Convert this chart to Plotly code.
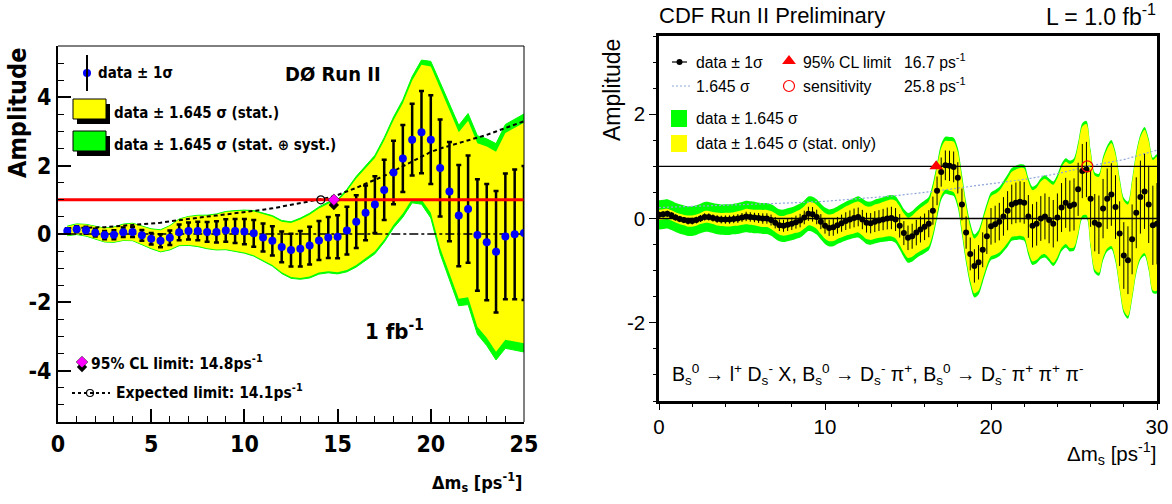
import math
import plotly.graph_objects as go

# ---------------- DØ panel data ----------------
d0_dms = [0.5 * i for i in range(1, 51)]
d0_amp = [0.09, 0.14, 0.11, 0.04, -0.03, -0.02, 0.05, 0.06, -0.04, -0.14,
          -0.20, -0.11, 0.05, 0.09, 0.09, 0.06, 0.06, 0.10, 0.09, 0.07,
          0.02, -0.10, -0.20, -0.38, -0.47, -0.43, -0.34, -0.19, -0.10, -0.08,
          0.10, 0.36, 0.62, 0.86, 1.29, 1.80, 2.21, 2.76, 2.98, 2.76,
          1.93, 1.24, 0.54, 0.73, -0.03, -0.24, -0.52, -0.07, -0.01, 0.03]
d0_sig_stat = [0.08, 0.09, 0.10, 0.11, 0.12, 0.13, 0.14, 0.15, 0.16, 0.17,
               0.19, 0.21, 0.23, 0.25, 0.27, 0.29, 0.31, 0.33, 0.35, 0.37,
               0.39, 0.41, 0.43, 0.45, 0.48, 0.52, 0.55, 0.57, 0.60, 0.63,
               0.70, 0.77, 0.80, 0.83, 0.88, 0.93, 0.98, 1.05, 1.20, 1.30,
               1.42, 1.45, 1.48, 1.57, 1.63, 1.70, 1.78, 1.84, 1.90, 1.96]
d0_sig_syst = [0.03, 0.03, 0.03, 0.03, 0.03, 0.04, 0.04, 0.04, 0.04, 0.05,
               0.05, 0.05, 0.06, 0.06, 0.07, 0.07, 0.08, 0.08, 0.09, 0.10,
               0.11, 0.12, 0.13, 0.14, 0.15, 0.16, 0.17, 0.18, 0.19, 0.20,
               0.22, 0.24, 0.26, 0.28, 0.30, 0.33, 0.36, 0.40, 0.45, 0.50,
               0.55, 0.60, 0.62, 0.65, 0.68, 0.70, 0.73, 0.76, 0.78, 0.80]
d0_expected = [0.17, 0.17, 0.18, 0.19, 0.20, 0.22, 0.24, 0.26, 0.28, 0.30,
               0.33, 0.37, 0.41, 0.45, 0.48, 0.51, 0.54, 0.57, 0.60, 0.64,
               0.67, 0.71, 0.75, 0.80, 0.84, 0.89, 0.94, 0.99, 1.06, 1.14,
               1.24, 1.35, 1.47, 1.58, 1.70, 1.84, 1.98, 2.12, 2.27, 2.40,
               2.50, 2.58, 2.65, 2.72, 2.80, 2.90, 3.00, 3.10, 3.20, 3.30]
d0_cl_limit = 14.8
d0_exp_limit = 14.1
ref_amp = 1.0

# ---------------- CDF panel data ----------------
cdf_dms = [0.25 * i for i in range(121)]
cdf_amp = [0.07, 0.08, 0.09, 0.06, 0.02, -0.01, -0.03, -0.05, -0.05, -0.03, 0.00, 0.03,
           0.03, 0.01, -0.01, -0.02, -0.02, -0.02, -0.01, 0.00, 0.02, 0.04, 0.03, 0.02,
           0.01, 0.00, 0.00, -0.03, -0.08, -0.13, -0.14, -0.12, -0.10, -0.07, -0.04, 0.02,
           0.09, 0.08, 0.03, -0.06, -0.14, -0.18, -0.17, -0.13, -0.09, -0.05, -0.02, 0.01,
           0.03, -0.02, -0.08, -0.09, -0.06, -0.04, -0.02, 0.00, 0.01, -0.02, -0.14, -0.28,
           -0.37, -0.34, -0.27, -0.21, -0.16, -0.10, 0.15, 0.53, 0.89, 1.02, 1.01, 0.99,
           0.78, 0.27, -0.27, -0.68, -0.91, -0.84, -0.60, -0.34, -0.15, -0.11, -0.06, 0.04,
           0.15, 0.27, 0.30, 0.32, 0.30, 0.04, -0.14, -0.10, 0.00, 0.04, -0.03, -0.10,
           0.02, 0.21, 0.30, 0.24, 0.27, 0.56, 0.91, 0.94, 0.38, -0.08, -0.12, 0.19,
           0.38, 0.46, 0.22, -0.29, -0.71, -0.80, -0.40, 0.11, 0.41, 0.52, 0.27, -0.13,
           -0.10]
cdf_sig_stat = [0.060, 0.060, 0.060, 0.060, 0.060, 0.060, 0.060, 0.065, 0.065, 0.065, 0.065, 0.070,
                0.070, 0.070, 0.075, 0.075, 0.080, 0.080, 0.080, 0.085, 0.085, 0.090, 0.090, 0.090,
                0.095, 0.100, 0.100, 0.105, 0.110, 0.110, 0.115, 0.120, 0.120, 0.125, 0.130, 0.130,
                0.135, 0.140, 0.140, 0.145, 0.150, 0.155, 0.160, 0.160, 0.165, 0.170, 0.175, 0.180,
                0.180, 0.185, 0.190, 0.195, 0.200, 0.200, 0.205, 0.210, 0.215, 0.220, 0.225, 0.230,
                0.235, 0.240, 0.245, 0.250, 0.255, 0.260, 0.270, 0.275, 0.280, 0.285, 0.290, 0.295,
                0.300, 0.305, 0.310, 0.315, 0.320, 0.330, 0.335, 0.340, 0.350, 0.355, 0.360, 0.370,
                0.375, 0.380, 0.390, 0.395, 0.400, 0.410, 0.415, 0.420, 0.430, 0.440, 0.445, 0.455,
                0.460, 0.470, 0.480, 0.490, 0.500, 0.510, 0.520, 0.530, 0.540, 0.550, 0.560, 0.570,
                0.580, 0.600, 0.610, 0.620, 0.640, 0.650, 0.670, 0.680, 0.700, 0.720, 0.740, 0.760,
                0.780]
cdf_sig_syst = [0.16, 0.16, 0.16, 0.16, 0.16, 0.16, 0.16, 0.16, 0.16, 0.16, 0.16, 0.16,
                0.16, 0.16, 0.16, 0.16, 0.16, 0.16, 0.16, 0.16, 0.16, 0.16, 0.16, 0.16,
                0.15, 0.15, 0.15, 0.15, 0.15, 0.15, 0.15, 0.15, 0.15, 0.15, 0.15, 0.15,
                0.15, 0.15, 0.15, 0.15, 0.15, 0.15, 0.15, 0.15, 0.15, 0.15, 0.15, 0.15,
                0.16, 0.16, 0.16, 0.16, 0.16, 0.16, 0.16, 0.16, 0.16, 0.16, 0.16, 0.16,
                0.17, 0.17, 0.17, 0.17, 0.17, 0.17, 0.17, 0.17, 0.17, 0.17, 0.17, 0.17,
                0.18, 0.18, 0.18, 0.18, 0.18, 0.18, 0.18, 0.18, 0.18, 0.18, 0.18, 0.18,
                0.19, 0.19, 0.19, 0.19, 0.19, 0.19, 0.19, 0.19, 0.19, 0.19, 0.19, 0.19,
                0.20, 0.20, 0.20, 0.20, 0.20, 0.20, 0.20, 0.20, 0.20, 0.20, 0.20, 0.20,
                0.21, 0.21, 0.21, 0.21, 0.21, 0.21, 0.21, 0.21, 0.21, 0.21, 0.21, 0.21,
                0.22]
cdf_sens_dms = [0, 2, 4, 6, 8, 10, 12, 14, 16, 18, 20, 22, 24, 25, 26, 28, 30]
cdf_sens_amp = [0.21, 0.23, 0.25, 0.27, 0.30, 0.33, 0.38, 0.43, 0.50, 0.58, 0.66, 0.75,
                0.86, 0.93, 1.01, 1.13, 1.31]
cdf_cl_limit = 16.7
cdf_sensitivity = 25.8

# ---------------- styles ----------------
D0_FONT = "DejaVu Sans Condensed, Liberation Sans Narrow, Arial Narrow, Liberation Sans, sans-serif"
CDF_FONT = "Liberation Sans, Arial, Helvetica, sans-serif"
YELLOW = "#ffff00"
GREEN = "#00ff00"
W, H = 1172, 504


def band(x, amp, sig, k=1.645):
    up = [a + k * s for a, s in zip(amp, sig)]
    lo = [a - k * s for a, s in zip(amp, sig)]
    return list(x) + list(x)[::-1], up + lo[::-1]


d0_tot = [math.hypot(a, b) for a, b in zip(d0_sig_stat, d0_sig_syst)]
cdf_tot = [math.hypot(a, b) for a, b in zip(cdf_sig_stat, cdf_sig_syst)]

fig = go.Figure()

# ===== DØ panel (x, y) =====
bx, by = band(d0_dms, d0_amp, d0_tot)
fig.add_trace(go.Scatter(x=bx, y=by, fill="toself", fillcolor=GREEN,
                         line=dict(color=GREEN, width=1), mode="lines", xaxis="x", yaxis="y"))
bx, by = band(d0_dms, d0_amp, d0_sig_stat)
fig.add_trace(go.Scatter(x=bx, y=by, fill="toself", fillcolor=YELLOW,
                         line=dict(color=YELLOW, width=0), mode="lines", xaxis="x", yaxis="y"))
fig.add_trace(go.Scatter(x=[d0_dms[0], d0_dms[-1]], y=[0, 0], mode="lines",
                         line=dict(color="black", width=1.5, dash="dashdot"), xaxis="x", yaxis="y"))
fig.add_trace(go.Scatter(x=d0_dms, y=d0_expected, mode="lines",
                         line=dict(color="black", width=2, dash="4px,3px"), xaxis="x", yaxis="y"))
fig.add_trace(go.Scatter(x=d0_dms, y=d0_amp, mode="markers",
                         marker=dict(size=2, color="rgba(0,0,0,0)"),
                         error_y=dict(type="data", array=d0_sig_stat, color="black",
                                      thickness=2.5, width=2.5),
                         xaxis="x", yaxis="y"))
fig.add_trace(go.Scatter(x=[0, 25], y=[ref_amp, ref_amp], mode="lines",
                         line=dict(color="#ff0000", width=3), xaxis="x", yaxis="y"))
fig.add_trace(go.Scatter(x=d0_dms, y=d0_amp, mode="markers",
                         marker=dict(size=8, color="#0000ff"), xaxis="x", yaxis="y"))
fig.add_trace(go.Scatter(x=[d0_exp_limit], y=[ref_amp], mode="markers",
                         marker=dict(size=8, color="rgba(0,0,0,0)", symbol="circle",
                                     line=dict(color="black", width=1.2)), xaxis="x", yaxis="y"))
fig.add_trace(go.Scatter(x=[d0_cl_limit], y=[ref_amp - 0.15], mode="markers",
                         marker=dict(size=8, color="black", symbol="diamond"), xaxis="x", yaxis="y"))
fig.add_trace(go.Scatter(x=[d0_cl_limit], y=[ref_amp], mode="markers",
                         marker=dict(size=9, color="#ff00ff", symbol="diamond",
                                     line=dict(color="black", width=0.5)), xaxis="x", yaxis="y"))

# ===== CDF panel (x2, y2) =====
bx, by = band(cdf_dms, cdf_amp, cdf_tot)
fig.add_trace(go.Scatter(x=bx, y=by, fill="toself", fillcolor=GREEN,
                         line=dict(color=GREEN, width=0, shape="spline", smoothing=0.8),
                         mode="lines", xaxis="x2", yaxis="y2"))
bx, by = band(cdf_dms, cdf_amp, cdf_sig_stat)
fig.add_trace(go.Scatter(x=bx, y=by, fill="toself", fillcolor=YELLOW,
                         line=dict(color=YELLOW, width=0, shape="spline", smoothing=0.8),
                         mode="lines", xaxis="x2", yaxis="y2"))
fig.add_trace(go.Scatter(x=[0, 30], y=[0, 0], mode="lines",
                         line=dict(color="black", width=1.3), xaxis="x2", yaxis="y2"))
fig.add_trace(go.Scatter(x=[0, 30], y=[ref_amp, ref_amp], mode="lines",
                         line=dict(color="black", width=1.3), xaxis="x2", yaxis="y2"))
fig.add_trace(go.Scatter(x=cdf_sens_dms, y=cdf_sens_amp, mode="lines",
                         line=dict(color="#8fa6d9", width=1.2, dash="2px,2px"),
                         xaxis="x2", yaxis="y2"))
fig.add_trace(go.Scatter(x=cdf_dms, y=cdf_amp, mode="markers",
                         marker=dict(size=6, color="black"),
                         error_y=dict(type="data", array=cdf_sig_stat, color="black",
                                      thickness=1, width=0),
                         xaxis="x2", yaxis="y2"))
fig.add_trace(go.Scatter(x=[cdf_cl_limit], y=[ref_amp], mode="markers",
                         marker=dict(size=12, color="#ff0000", symbol="triangle-up"),
                         xaxis="x2", yaxis="y2"))
fig.add_trace(go.Scatter(x=[cdf_sensitivity], y=[ref_amp], mode="markers",
                         marker=dict(size=11, color="rgba(0,0,0,0)", symbol="circle",
                                     line=dict(color="#ff0000", width=1.2)),
                         xaxis="x2", yaxis="y2"))

# ===== legend symbols on a pixel overlay (x3, y3) =====
fig.add_trace(go.Scatter(x=[87], y=[73], mode="markers", marker=dict(size=8, color="#0000ff"),
                         xaxis="x3", yaxis="y3"))
fig.add_trace(go.Scatter(x=[82], y=[367], mode="markers",
                         marker=dict(size=8, color="black", symbol="diamond"), xaxis="x3", yaxis="y3"))
fig.add_trace(go.Scatter(x=[82], y=[362], mode="markers",
                         marker=dict(size=9, color="#ff00ff", symbol="diamond",
                                     line=dict(color="black", width=0.5)), xaxis="x3", yaxis="y3"))
fig.add_trace(go.Scatter(x=[90], y=[393], mode="markers",
                         marker=dict(size=7, color="white", symbol="circle",
                                     line=dict(color="black", width=1.2)), xaxis="x3", yaxis="y3"))
fig.add_trace(go.Scatter(x=[679.5], y=[62], mode="markers", marker=dict(size=6, color="black"),
                         xaxis="x3", yaxis="y3"))
fig.add_trace(go.Scatter(x=[789], y=[61], mode="markers",
                         marker=dict(size=12, color="#ff0000", symbol="triangle-up"),
                         xaxis="x3", yaxis="y3"))
fig.add_trace(go.Scatter(x=[789], y=[86], mode="markers",
                         marker=dict(size=11, color="rgba(0,0,0,0)", symbol="circle",
                                     line=dict(color="#ff0000", width=1.2)),
                         xaxis="x3", yaxis="y3"))

shapes = [
    # DØ frame (top/right thin)
    dict(type="line", xref="x3", yref="y3", x0=58, x1=524, y0=46, y1=46, line=dict(color="black", width=1)),
    dict(type="line", xref="x3", yref="y3", x0=524, x1=524, y0=46, y1=422, line=dict(color="black", width=1)),
    # DØ legend
    dict(type="line", xref="x3", yref="y3", x0=87, x1=87, y0=55, y1=91, line=dict(color="black", width=2)),
    dict(type="rect", xref="x3", yref="y3", x0=77, x1=110, y0=104, y1=124, fillcolor="black", line=dict(width=0)),
    dict(type="rect", xref="x3", yref="y3", x0=73, x1=106, y0=99, y1=119, fillcolor=YELLOW, line=dict(color="black", width=1)),
    dict(type="rect", xref="x3", yref="y3", x0=77, x1=110, y0=136, y1=156, fillcolor="black", line=dict(width=0)),
    dict(type="rect", xref="x3", yref="y3", x0=73, x1=106, y0=131, y1=151, fillcolor=GREEN, line=dict(color="black", width=1)),
    dict(type="line", xref="x3", yref="y3", x0=72, x1=110, y0=393, y1=393, line=dict(color="black", width=2, dash="3px,3px")),
    # CDF legend
    dict(type="line", xref="x3", yref="y3", x0=672, x1=687, y0=62, y1=62, line=dict(color="black", width=1.2)),
    dict(type="line", xref="x3", yref="y3", x0=672, x1=690, y0=86, y1=86, line=dict(color="#8fa6d9", width=1.2, dash="2px,2px")),
    dict(type="rect", xref="x3", yref="y3", x0=671, x1=687, y0=110, y1=127, fillcolor=GREEN, line=dict(width=0)),
    dict(type="rect", xref="x3", yref="y3", x0=671, x1=687, y0=135, y1=152, fillcolor=YELLOW, line=dict(width=0)),
]


def ann(x, y, text, size, family, xanchor="left", bold=False, angle=0, yanchor="middle"):
    return dict(x=x, y=y, xref="x3", yref="y3", text=(f"<b>{text}</b>" if bold else text),
                showarrow=False, xanchor=xanchor, yanchor=yanchor, textangle=angle,
                font=dict(size=size, family=family, color="black"))


annotations = [
    # DØ texts
    ann(96, 73, "data ± 1σ", 15, D0_FONT, bold=True),
    ann(112, 113, "data ± 1.645 σ (stat.)", 15, D0_FONT, bold=True),
    ann(112, 145, "data ± 1.645 σ (stat. ⊕ syst.)", 15, D0_FONT, bold=True),
    ann(283, 74, "DØ Run II", 20, D0_FONT, bold=True),
    ann(363, 330, "1 fb<sup>-1</sup>", 22, D0_FONT, bold=True),
    ann(89, 362, "95% CL limit: 14.8ps<sup>-1</sup>", 15.5, D0_FONT, bold=True),
    ann(114, 391, "Expected limit: 14.1ps<sup>-1</sup>", 15.5, D0_FONT, bold=True),
    ann(524, 482, "Δm<sub>s</sub> [ps<sup>-1</sup>]", 18, D0_FONT, xanchor="right", bold=True),
    ann(17, 113, "Amplitude", 25, D0_FONT, xanchor="center", bold=True, angle=-90),
    # CDF texts
    ann(657, 15, "CDF Run II Preliminary", 22, CDF_FONT),
    ann(1158, 15, "L = 1.0 fb<sup>-1</sup>", 23, CDF_FONT, xanchor="right"),
    ann(612, 90, "Amplitude", 23, CDF_FONT, xanchor="center", angle=-90),
    ann(1158, 453, "Δm<sub>s</sub> [ps<sup>-1</sup>]", 20.5, CDF_FONT, xanchor="right"),
    ann(694, 62, "data ± 1σ", 15.8, CDF_FONT),
    ann(801, 62, "95% CL limit", 15.8, CDF_FONT),
    ann(902, 61, "16.7 ps<sup>-1</sup>", 15.8, CDF_FONT),
    ann(694, 86, "1.645 σ", 15.8, CDF_FONT),
    ann(801, 86, "sensitivity", 15.8, CDF_FONT),
    ann(902, 85, "25.8 ps<sup>-1</sup>", 15.8, CDF_FONT),
    ann(694, 118.5, "data ± 1.645 σ", 15.8, CDF_FONT),
    ann(694, 143.5, "data ± 1.645 σ (stat. only)", 15.8, CDF_FONT),
    ann(670, 374,
        "B<sub>s</sub><sup>0</sup> → l<sup>+</sup> D<sub>s</sub><sup>-</sup> X, "
        "B<sub>s</sub><sup>0</sup> → D<sub>s</sub><sup>-</sup> π<sup>+</sup>, "
        "B<sub>s</sub><sup>0</sup> → D<sub>s</sub><sup>-</sup> π<sup>+</sup> π<sup>+</sup> π<sup>-</sup>",
        19.5, CDF_FONT),
]

d0_xticks = [0, 5, 10, 15, 20, 25]
d0_yticks = [-4, -2, 0, 2, 4]
cdf_xticks = [0, 10, 20, 30]
cdf_yticks = [-2, 0, 2]

fig.update_layout(
    width=W, height=H, margin=dict(l=0, r=0, t=0, b=0, autoexpand=False),
    paper_bgcolor="white", plot_bgcolor="rgba(0,0,0,0)", showlegend=False,
    hovermode=False,
    xaxis=dict(domain=[58 / W, 524 / W], anchor="y", range=[0, 25], showgrid=False, zeroline=False,
               automargin=False,
               showline=True, linecolor="black", linewidth=2, ticks="inside", ticklen=13,
               tickwidth=1.5, tickcolor="black", tickvals=d0_xticks,
               ticktext=[str(v) for v in d0_xticks], ticklabelstandoff=0,
               tickfont=dict(size=23, family=D0_FONT, color="black", weight="bold"),
               minor=dict(dtick=1, ticklen=6, ticks="inside", tickwidth=1.2, tickcolor="black")),
    yaxis=dict(domain=[1 - 422 / H, 1 - 46 / H], anchor="x", range=[-5.5, 5.5], showgrid=False,
               automargin=False,
               zeroline=False, showline=True, linecolor="black", linewidth=2, ticks="inside",
               ticklen=13, tickwidth=1.5, tickcolor="black", tickvals=d0_yticks,
               ticktext=[str(v) for v in d0_yticks],
               tickfont=dict(size=23, family=D0_FONT, color="black", weight="bold"),
               minor=dict(dtick=0.5, ticklen=6, ticks="inside", tickwidth=1.2, tickcolor="black")),
    xaxis2=dict(domain=[659 / W, 1157 / W], anchor="y2", range=[0, 30], showgrid=False, zeroline=False,
                automargin=False,
                showline=True, linecolor="black", linewidth=2.5, mirror=True, ticks="outside",
                ticklen=6, tickwidth=1.2, tickcolor="black", tickvals=cdf_xticks,
                ticktext=[str(v) for v in cdf_xticks], ticklabelstandoff=0,
                tickfont=dict(size=20.5, family=CDF_FONT, color="black"),
                minor=dict(dtick=2, ticklen=3, ticks="outside", tickwidth=1.2, tickcolor="black")),
    yaxis2=dict(domain=[1 - 401 / H, 1 - 36 / H], anchor="x2", range=[-3.5, 3.5], showgrid=False,
                automargin=False,
                zeroline=False, showline=True, linecolor="black", linewidth=2.5, mirror=True,
                ticks="outside", ticklen=7, tickwidth=1.2, tickcolor="black", tickvals=cdf_yticks,
                ticktext=[str(v) for v in cdf_yticks],
                tickfont=dict(size=20.5, family=CDF_FONT, color="black"),
                minor=dict(dtick=0.5, ticklen=3, ticks="outside", tickwidth=1.2, tickcolor="black")),
    xaxis3=dict(domain=[0, 1], anchor="y3", range=[0, W], visible=False, fixedrange=True,
                automargin=False),
    yaxis3=dict(domain=[0, 1], anchor="x3", range=[H, 0], visible=False, fixedrange=True,
                automargin=False),
    shapes=shapes, annotations=annotations,
)

fig.write_html("out.html", config={"displayModeBar": False},
               post_script="document.body.style.margin='0px';document.body.style.overflow='hidden';")
